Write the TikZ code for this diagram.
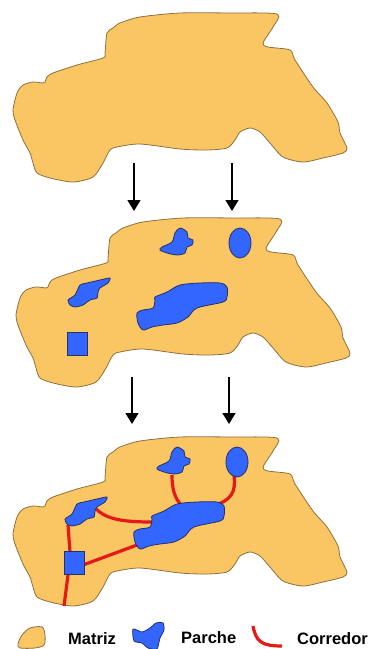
\documentclass[tikz,border=0pt]{standalone}
\usepackage{fontspec}
\setmainfont{Liberation Sans}
\usetikzlibrary{arrows.meta}
\definecolor{matrizc}{RGB}{250,198,100}
\definecolor{bordec}{RGB}{140,112,62}
\definecolor{parchec}{RGB}{51,102,255}
\definecolor{bordeazul}{RGB}{38,48,105}
\definecolor{corredorc}{RGB}{230,25,25}

\begin{document}
\begin{tikzpicture}[x=1pt,y=-1pt,
  matriz/.style={fill=matrizc,draw=bordec,line width=0.8pt},
  parche/.style={fill=parchec,draw=bordeazul,line width=0.8pt},
  corredor/.style={draw=corredorc,line width=3.2pt},
  flecha/.style={-{Triangle[width=13pt,length=11pt]},line width=1.4pt},
  etiq/.style={font=\fontsize{16.5}{18}\selectfont\bfseries,anchor=base west,inner sep=0pt}
]
\useasboundingbox (0,0) rectangle (369,649);

% three copies of the matrix
\foreach \dx/\dy in {0/0,3/205,0/424}
  \draw[matriz,shift={(\dx,\dy)}] plot[smooth cycle,tension=0.45] coordinates {
    (107,33) (113,28) (120,23) (140,17) (180,13) (230,13) (277,14) (273,27)
    (263,43) (268,47) (290,50) (295,60) (313,87) (327,103) (338,122) (340,133)
    (347,148) (343,153) (323,158) (303,162) (283,157) (270,143) (260,132)
    (250,128) (240,132) (235,140) (227,148) (207,150) (180,149) (140,144)
    (117,147) (110,150) (103,163) (93,177) (73,182) (50,178) (37,173) (33,163)
    (30,153) (23,140) (15,120) (13,110) (17,93) (23,85) (33,82) (43,83) (45,82)
    (47,77) (53,73) (77,65) (103,58) (105,53)};

% corridors (third step only)
\begin{scope}[shift={(0,424)}]
  \draw[corredor] (70,128) -- (68,101);
  \draw[corredor] (68,151) -- (64,182);
  \draw[corredor] (83,141) -- (137,121);
  \draw[corredor] (95,84) .. controls (105,94) and (118,98) .. (152,98);
  \draw[corredor] (172,51) .. controls (172,66) and (175,74) .. (181,81);
  \draw[corredor] (234,51) .. controls (236,68) and (232,76) .. (213,82);
\end{scope}

% patches
\foreach \dx/\dy in {3/205,0/424}
{
  \begin{scope}[shift={(\dx,\dy)}]
    \draw[parche] plot[smooth cycle,tension=0.5] coordinates {
      (159,42) (169,37) (172,28) (177,23) (184,27) (185,33) (190,35) (189,40)
      (184,42) (182,48) (174,50) (164,48) (157,45)};
    \draw[parche] (237,38) ellipse [x radius=11,y radius=15];
    \draw[parche] plot[smooth cycle,tension=0.5] coordinates {
      (152,92) (164,87) (177,80) (197,78) (217,78) (224,82) (224,92) (220,97)
      (194,103) (185,112) (174,118) (160,120) (149,122) (140,125) (135,118)
      (134,108) (140,105) (150,103) (152,95)};
    \draw[parche] plot[smooth cycle,tension=0.4] coordinates {
      (67,100) (65,95) (72,90) (77,80) (84,78) (97,75) (107,73) (105,78)
      (97,83) (95,87) (94,93) (87,95) (80,100) (72,102)};
    \draw[parche] (64,127) rectangle (84,150);
  \end{scope}
}

% arrows between steps
\coordinate (f1a) at (134,163); \coordinate (f1b) at (134,211);
\coordinate (f2a) at (232,163); \coordinate (f2b) at (232,211);
\coordinate (f3a) at (132,377); \coordinate (f3b) at (132,424);
\coordinate (f4a) at (229,377); \coordinate (f4b) at (229,424);
\foreach \i in {1,...,4}
  \draw[flecha] (f\i a) -- (f\i b);

% legend
\draw[matriz] plot[smooth cycle,tension=0.5] coordinates {
  (18,644) (22,635) (30,628) (42,627) (45,635) (44,645) (35,648) (20,648)};
\node[etiq] (matriz) at (68,644) {Matriz};
\draw[parche] plot[smooth cycle,tension=0.4] coordinates {
  (133,629) (142,632) (150,628) (156,623) (163,623) (164,630) (160,638)
  (157,649) (148,648) (142,643) (134,641)};
\node[etiq] (parche) at (181,643) {Parche};
\draw[corredor] (253,626) .. controls (256,642) and (262,646) .. (282,646);
\node[etiq] (corredor) at (297,644) {Corredor};
\end{tikzpicture}
\end{document}
